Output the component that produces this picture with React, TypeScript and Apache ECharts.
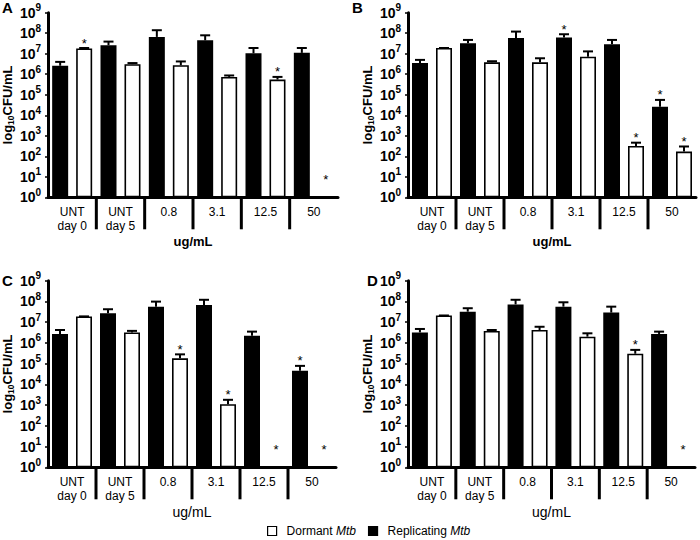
import React, { useEffect, useRef } from 'react';
import * as echarts from 'echarts';

// ---------- data ----------
const categories = ['UNT\nday 0', 'UNT\nday 5', '0.8', '3.1', '12.5', '50'];
const seriesNames = ['Replicating', 'Dormant'];
const xAxisName = 'ug/mL';

// Panel A
const aReplicating = [2.6e6, 2.6e7, 6.6e7, 4.5e7, 1.05e7, 1.1e7];
const aReplicatingErr = [4.0e6, 3.9e7, 1.4e8, 7.9e7, 1.9e7, 1.9e7];
const aDormant = [1.8e7, 3.1e6, 2.75e6, 7.4e5, 5.5e5, null];
const aDormantErr = [1.9e7, 3.5e6, 4.2e6, 8.7e5, 7.4e5, null];
const aReplicatingStar = [0, 0, 0, 0, 0, 0];
const aDormantStar = [1, 0, 0, 0, 1, 1];

// Panel B
const bReplicating = [3.5e6, 3.2e7, 5.8e7, 6.2e7, 2.9e7, 2.6e4];
const bReplicatingErr = [5.0e6, 4.7e7, 1.2e8, 8.9e7, 4.7e7, 5.6e4];
const bDormant = [1.9e7, 3.8e6, 3.8e6, 7.2e6, 3.2e2, 1.7e2];
const bDormantErr = [1.9e7, 4.3e6, 6.0e6, 1.3e7, 4.6e2, 3.0e2];
const bReplicatingStar = [0, 0, 0, 1, 0, 1];
const bDormantStar = [0, 0, 0, 0, 1, 1];

// Panel C
const cReplicating = [2.7e6, 2.7e7, 5.6e7, 6.8e7, 2.2e6, 4.6e4];
const cReplicatingErr = [4.2e6, 4.2e7, 9.8e7, 1.2e8, 3.5e6, 7.8e4];
const cDormant = [1.9e7, 3.2e6, 1.8e5, 1.1e3, null, null];
const cDormantErr = [1.9e7, 3.8e6, 2.8e5, 1.8e3, null, null];
const cReplicatingStar = [0, 0, 0, 0, 0, 1];
const cDormantStar = [0, 0, 1, 1, 1, 1];

// Panel D
const dReplicating = [3.2e6, 3.2e7, 7.2e7, 5.6e7, 2.9e7, 2.7e6];
const dReplicatingErr = [4.7e6, 4.7e7, 1.2e8, 9.1e7, 5.6e7, 3.5e6];
const dDormant = [2.1e7, 3.8e6, 4.2e6, 2.0e6, 3.0e5, null];
const dDormantErr = [2.1e7, 4.2e6, 6.0e6, 2.9e6, 4.6e5, null];
const dReplicatingStar = [0, 0, 0, 0, 0, 0];
const dDormantStar = [0, 0, 0, 0, 1, 1];

const STAR_LEVEL_NO_BAR = 10; // stars for absent bars sit at 10^1

// ---------- layout / style ----------
const FONT = '"Liberation Sans", Arial, Helvetica, sans-serif';
const BAR_W = 16;
const BAR_GAP = 8;
const SIDE_OFFSET = (BAR_W + BAR_GAP) / 2;

type Panel = {
  letter: string;
  letterX: number;
  letterY: number;
  grid: { left: number; top: number; width: number; height: number };
  nameBold: boolean;
  rep: (number | null)[];
  repErr: (number | null)[];
  dor: (number | null)[];
  dorErr: (number | null)[];
  repStar: number[];
  dorStar: number[];
};

const panels: Panel[] = [
  { letter: 'A', letterX: 2, letterY: 8, grid: { left: 48, top: 12.7, width: 290, height: 184.6 }, nameBold: true,
    rep: aReplicating, repErr: aReplicatingErr, dor: aDormant, dorErr: aDormantErr, repStar: aReplicatingStar, dorStar: aDormantStar },
  { letter: 'B', letterX: 352, letterY: 8, grid: { left: 408, top: 12.7, width: 288, height: 184.6 }, nameBold: true,
    rep: bReplicating, repErr: bReplicatingErr, dor: bDormant, dorErr: bDormantErr, repStar: bReplicatingStar, dorStar: bDormantStar },
  { letter: 'C', letterX: 2, letterY: 281, grid: { left: 46, top: 280.7, width: 290, height: 186.6 }, nameBold: false,
    rep: cReplicating, repErr: cReplicatingErr, dor: cDormant, dorErr: cDormantErr, repStar: cReplicatingStar, dorStar: cDormantStar },
  { letter: 'D', letterX: 367, letterY: 281, grid: { left: 408, top: 280.7, width: 287, height: 186.6 }, nameBold: false,
    rep: dReplicating, repErr: dReplicatingErr, dor: dDormant, dorErr: dDormantErr, repStar: dReplicatingStar, dorStar: dDormantStar },
];

type Meta = { cat: number; side: number; value: number | null; err: number | null; star: boolean };

function buildOption() {
  const grid: any[] = [];
  const xAxis: any[] = [];
  const yAxis: any[] = [];
  const series: any[] = [];
  const graphic: any[] = [];

  panels.forEach((p, i) => {
    grid.push({ ...p.grid, containLabel: false });
    xAxis.push({
      type: 'category',
      gridIndex: i,
      data: categories,
      name: xAxisName,
      nameLocation: 'middle',
      nameGap: 38,
      nameTextStyle: {
        fontFamily: FONT,
        fontSize: p.nameBold ? 13 : 14,
        fontWeight: p.nameBold ? 'bold' : 'normal',
        color: '#000',
      },
      axisLine: { onZero: false, lineStyle: { color: '#000', width: 3 } },
      axisTick: { show: false },
      axisLabel: {
        interval: 0,
        margin: 8,
        fontFamily: FONT,
        fontSize: 12,
        lineHeight: 14,
        color: '#000',
      },
      splitLine: { show: false },
    });
    yAxis.push({
      type: 'log',
      logBase: 10,
      gridIndex: i,
      min: 1,
      max: 1e9,
      splitNumber: 9,
      name: '{a|log}{s|10}{a|CFU/mL}',
      nameLocation: 'middle',
      nameGap: 33,
      nameTextStyle: {
        rich: {
          a: { fontFamily: FONT, fontSize: 13, fontWeight: 'bold', color: '#000' },
          s: { fontFamily: FONT, fontSize: 8.5, fontWeight: 'bold', color: '#000', padding: [6, 0, 0, 0] },
        },
      },
      axisLine: { show: true, lineStyle: { color: '#000', width: 3 } },
      axisTick: { show: true, length: 3, lineStyle: { color: '#000', width: 1.5 } },
      splitLine: { show: false },
      axisLabel: {
        margin: 7,
        formatter: (v: number) => `{a|10}{s|${Math.round(Math.log10(v))}}`,
        rich: {
          a: { fontFamily: FONT, fontSize: 14, fontWeight: 'bold', color: '#000' },
          s: { fontFamily: FONT, fontSize: 10, fontWeight: 'bold', color: '#000', padding: [0, 0, 10, 0] },
        },
      },
    });

    series.push({
      type: 'bar',
      name: seriesNames[0],
      xAxisIndex: i,
      yAxisIndex: i,
      data: p.rep,
      barWidth: BAR_W,
      barGap: `${(BAR_GAP / BAR_W) * 100}%`,
      itemStyle: { color: '#000' },
    });
    series.push({
      type: 'bar',
      name: seriesNames[1],
      xAxisIndex: i,
      yAxisIndex: i,
      data: p.dor,
      barWidth: BAR_W,
      barGap: `${(BAR_GAP / BAR_W) * 100}%`,
      itemStyle: { color: '#fff', borderColor: '#000', borderWidth: 1.6 },
    });

    const meta: Meta[] = [];
    categories.forEach((_, c) => {
      meta.push({ cat: c, side: -1, value: p.rep[c], err: p.repErr[c], star: !!p.repStar[c] });
      meta.push({ cat: c, side: 1, value: p.dor[c], err: p.dorErr[c], star: !!p.dorStar[c] });
    });

    series.push({
      type: 'custom',
      xAxisIndex: i,
      yAxisIndex: i,
      clip: false,
      silent: true,
      z: 5,
      encode: { x: 0, y: 1 },
      data: meta.map((m) => [m.cat, m.value ?? STAR_LEVEL_NO_BAR]),
      renderItem: (params: any, api: any) => {
        const m = meta[params.dataIndex];
        const base = api.coord([m.cat, 1]);
        const band = api.size([1, 0])[0];
        const x = base[0] + m.side * SIDE_OFFSET;
        const children: any[] = [];
        if (m.side < 0 && m.cat > 0) {
          const sx = base[0] - band / 2;
          children.push({
            type: 'line',
            shape: { x1: sx, y1: base[1], x2: sx, y2: base[1] + 32 },
            style: { stroke: '#000', lineWidth: 3 },
          });
        }
        if (m.value != null && m.err != null) {
          const yv = api.coord([m.cat, m.value])[1];
          const ye = api.coord([m.cat, m.err])[1];
          children.push({
            type: 'line',
            shape: { x1: x, y1: yv, x2: x, y2: ye },
            style: { stroke: '#000', lineWidth: 2 },
          });
          children.push({
            type: 'line',
            shape: { x1: x - 5, y1: ye, x2: x + 5, y2: ye },
            style: { stroke: '#000', lineWidth: 2 },
          });
        }
        if (m.star) {
          let sy: number;
          if (m.value == null) sy = api.coord([m.cat, STAR_LEVEL_NO_BAR])[1];
          else sy = api.coord([m.cat, m.err ?? m.value])[1] - 8;
          children.push({
            type: 'text',
            style: {
              text: '*',
              x,
              y: sy + 3,
              align: 'center',
              verticalAlign: 'middle',
              fontFamily: FONT,
              fontSize: 13,
              fill: '#000',
            },
          });
        }
        return { type: 'group', children };
      },
    });

    graphic.push({
      type: 'text',
      left: p.letterX,
      top: p.letterY - 8,
      style: {
        text: p.letter,
        fontFamily: FONT,
        fontSize: 15,
        fontWeight: 'bold',
        fill: '#000',
      },
    });
  });

  return {
    animation: false,
    backgroundColor: '#fff',
    textStyle: { fontFamily: FONT },
    grid,
    xAxis,
    yAxis,
    series,
    graphic,
    legend: {
      data: ['Dormant', 'Replicating'],
      left: 262,
      top: 520,
      icon: 'rect',
      itemWidth: 9,
      itemHeight: 9,
      itemGap: 12,
      selectedMode: false,
      itemStyle: { borderColor: '#000', borderWidth: 1.2 },
      formatter: (name: string) => `{n|${name} }{i|Mtb}`,
      textStyle: {
        color: '#000',
        fontSize: 12,
        rich: {
          n: { fontFamily: FONT, fontSize: 12, color: '#000', padding: [0, 0, 0, 5] },
          i: { fontFamily: FONT, fontSize: 12, color: '#000', fontStyle: 'italic' },
        },
      },
    },
  };
}

export default function App() {
  const ref = useRef<HTMLDivElement>(null);
  useEffect(() => {
    if (!ref.current) return;
    const chart = echarts.init(ref.current, undefined, { renderer: 'svg' });
    chart.setOption(buildOption() as any);
    return () => chart.dispose();
  }, []);
  return (
    <div
      ref={ref}
      style={{ position: 'fixed', left: 0, top: 0, width: 700, height: 540, background: '#fff' }}
    />
  );
}
